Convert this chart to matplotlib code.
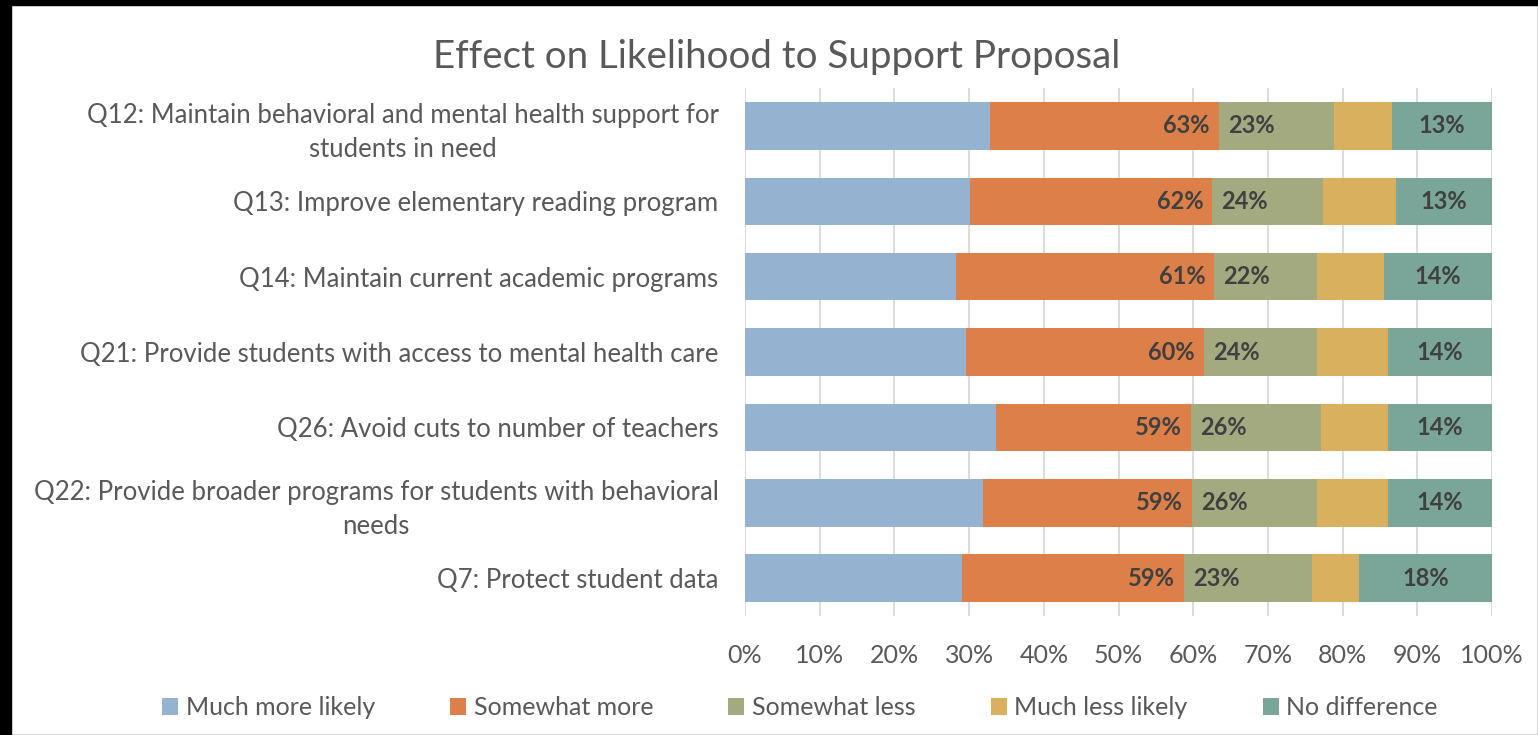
import numpy as np
import matplotlib.pyplot as plt
from matplotlib.patches import Rectangle

plt.rcParams['font.family'] = ['Lato', 'DejaVu Sans']

questions = [
    "Q12: Maintain behavioral and mental health support for\nstudents in need",
    "Q13: Improve elementary reading program",
    "Q14: Maintain current academic programs",
    "Q21: Provide students with access to mental health care",
    "Q26: Avoid cuts to number of teachers",
    "Q22: Provide broader programs for students with behavioral\nneeds",
    "Q7: Protect student data",
]
series = ["Much more likely", "Somewhat more", "Somewhat less", "Much less likely", "No difference"]
colors = ["#95b3d0", "#dc7f48", "#a3aa80", "#d8b05e", "#7aa699"]

# percent of respondents per answer
much_more = [32.5, 29.8, 27.4, 29.0, 33.2, 31.5, 29.0]
somewhat_more = [30.3, 32.0, 33.6, 31.2, 25.9, 27.7, 29.8]
somewhat_less = [15.3, 14.6, 13.4, 14.9, 17.2, 16.6, 17.1]
much_less = [7.7, 9.7, 8.7, 9.3, 8.9, 9.4, 6.3]
no_diff = [13.2, 12.7, 14.0, 13.6, 13.8, 13.8, 17.8]

data = np.array([much_more, somewhat_more, somewhat_less, much_less, no_diff])
# 100% stacked: each row is scaled to its own total
shares = data / data.sum(axis=0) * 100
more_tot = data[0] + data[1]
less_tot = data[2] + data[3]

fig = plt.figure(figsize=(15.38, 7.35), dpi=100)
ax = fig.add_axes([0.4844, 0.162, 0.4857, 0.718])

y = np.arange(len(questions))
left = np.zeros(len(questions))
for i in range(5):
    ax.barh(y, shares[i], left=left, height=0.63, color=colors[i], label=series[i], zorder=2)
    left += shares[i]

lab_kw = dict(fontsize=17, fontweight='bold', color='#404040', va='center', zorder=3)
for k in range(len(questions)):
    more_end = shares[0, k] + shares[1, k]
    ax.text(more_end - 1.2, y[k], f"{more_tot[k]:.0f}%", ha='right', **lab_kw)
    ax.text(more_end + 1.2, y[k], f"{less_tot[k]:.0f}%", ha='left', **lab_kw)
    nd_start = 100 - shares[4, k]
    ax.text(nd_start + shares[4, k] / 2, y[k], f"{no_diff[k]:.0f}%", ha='center', **lab_kw)

ax.set_xlim(0, 100)
ax.set_ylim(len(questions) - 0.5, -0.5)
ax.set_xticks(np.arange(0, 101, 10))
ax.set_xticklabels([f"{v}%" for v in range(0, 101, 10)])
ax.set_yticks(y)
ax.set_yticklabels(questions, multialignment='center', linespacing=1.45)
ax.tick_params(axis='x', length=0, labelsize=18, labelcolor='#595959', pad=20)
ax.tick_params(axis='y', length=0, labelsize=18.5, labelcolor='#595959', pad=19)
ax.grid(axis='x', color='#d9d9d9', linewidth=1.3, zorder=0)
for s in ax.spines.values():
    s.set_visible(False)

fig.text(0.505, 0.922, "Effect on Likelihood to Support Proposal", ha='center', va='center',
         fontsize=27.7, color='#595959')

fig.legend(loc='center', bbox_to_anchor=(0.52, 0.037), ncol=5, frameon=False,
           fontsize=18, labelcolor='#595959', handlelength=0.65, handleheight=0.65,
           handletextpad=0.3, columnspacing=3.0)

# dark frame strips and light chart border
fig.patches.append(Rectangle((0, 0.993), 1, 0.007, transform=fig.transFigure, color='black', zorder=5))
fig.patches.append(Rectangle((0, 0), 0.0072, 1, transform=fig.transFigure, color='black', zorder=5))
fig.patches.append(Rectangle((0.0072, 0), 0.993, 0.993, transform=fig.transFigure, fill=False,
                             edgecolor='#d9d9d9', linewidth=1.5, zorder=4))

fig.savefig("out.png", dpi=100)
